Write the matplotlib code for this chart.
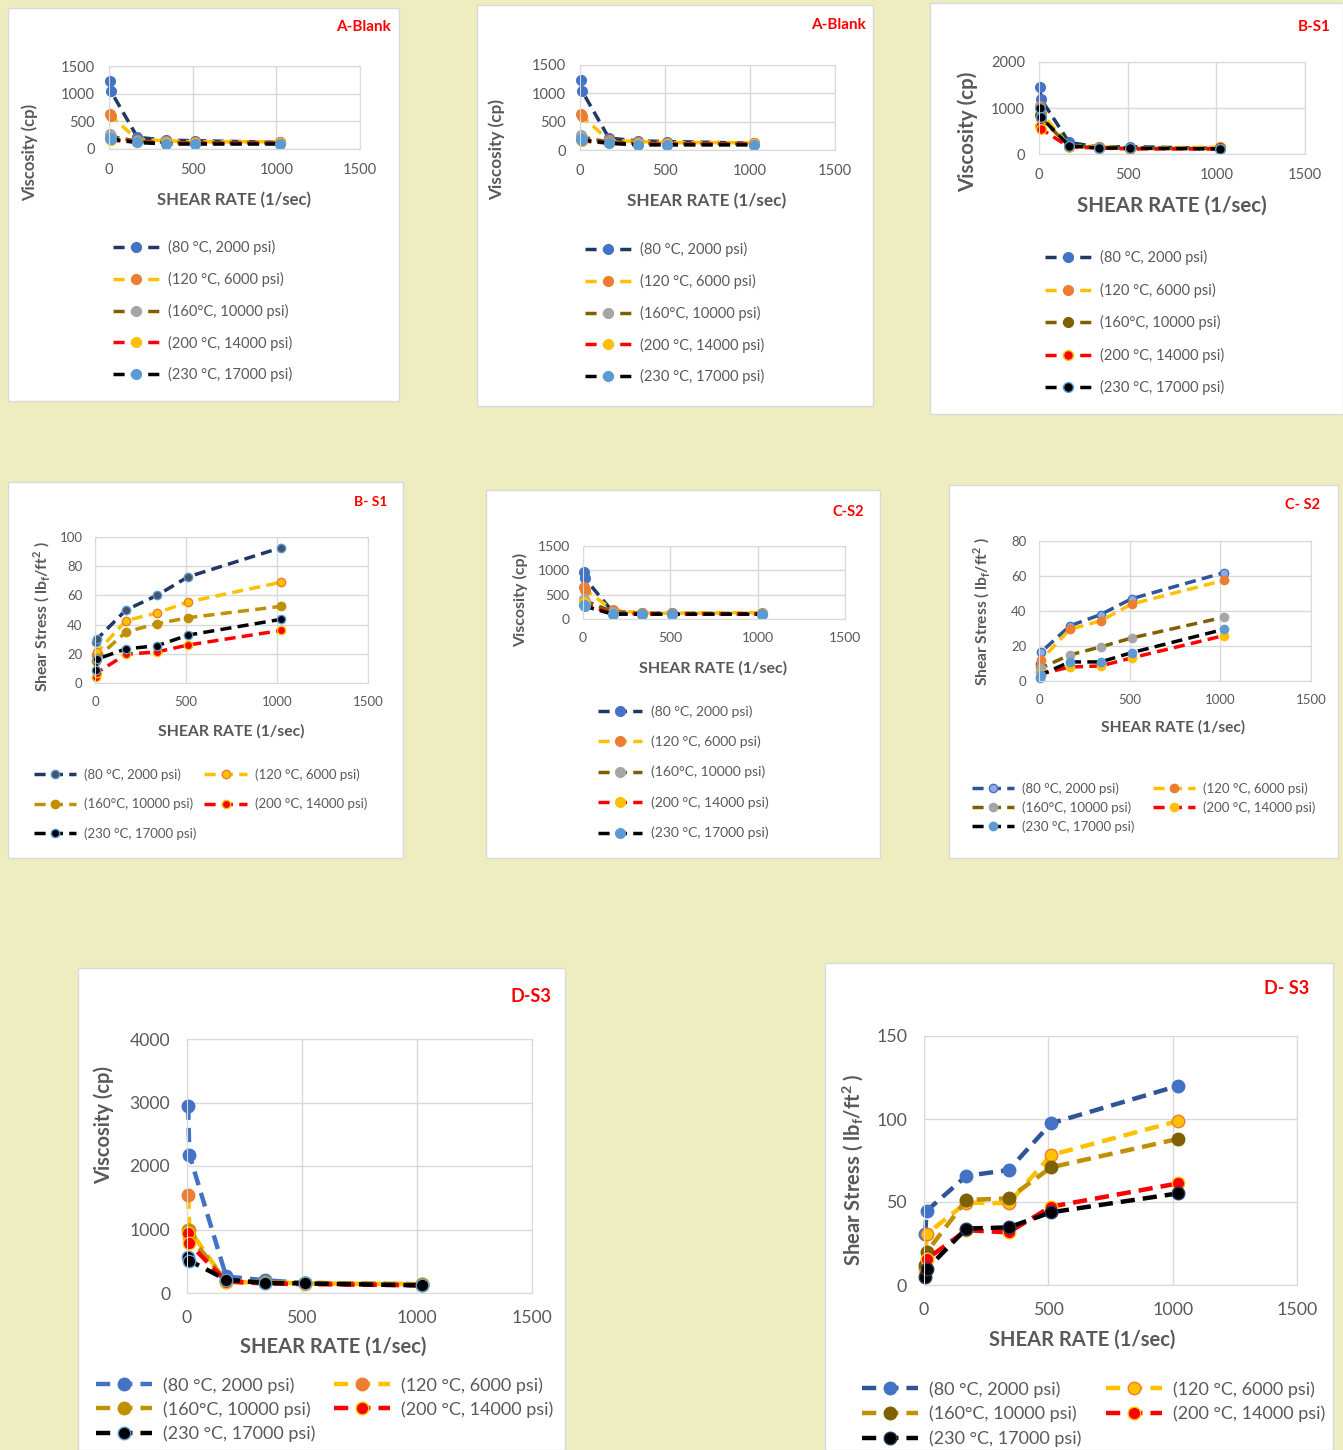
import matplotlib
matplotlib.use("Agg")
import matplotlib.pyplot as plt
from matplotlib.patches import Rectangle

plt.rcParams['font.family'] = ['Lato', 'DejaVu Sans']

W, H = 1343, 1450

# shear rates of the six Fann readings (1/sec)
shear_rate = [5.11, 10.22, 170.3, 340.6, 511, 1022]

labels = ['(80 °C, 2000 psi)', '(120 °C, 6000 psi)', '(160°C, 10000 psi)',
          '(200 °C, 14000 psi)', '(230 °C, 17000 psi)']

# viscosity (cp), one list per condition
a_blank_visc = [
    [1230, 1050, 210, 160, 150, 120],
    [640, 600, 170, 150, 130, 130],
    [270, 230, 140, 120, 110, 110],
    [180, 160, 120, 100, 100, 100],
    [200, 180, 120, 90, 90, 90],
]
b_s1_visc = [
    [1460, 1200, 250, 150, 160, 120],
    [1050, 900, 180, 160, 130, 150],
    [850, 780, 170, 140, 120, 120],
    [600, 550, 150, 130, 110, 110],
    [1000, 800, 180, 130, 130, 110],
]
c_s2_visc = [
    [970, 835, 150, 120, 120, 110],
    [650, 600, 190, 120, 120, 130],
    [415, 380, 150, 110, 110, 110],
    [350, 300, 110, 100, 100, 100],
    [290, 260, 100, 100, 100, 100],
]
d_s3_visc = [
    [2950, 2180, 260, 200, 160, 130],
    [1550, 1000, 170, 170, 150, 140],
    [1000, 900, 190, 170, 160, 140],
    [945, 780, 180, 150, 140, 120],
    [560, 510, 210, 157, 150, 120],
]

# shear stress (lbf/ft2)
b_s1_stress = [
    [28.2, 30, 50, 60, 72.7, 92.7],
    [19, 21, 42.7, 48, 55.5, 69],
    [15, 17, 35, 40.6, 44.7, 52.5],
    [4, 7, 19.7, 21.3, 26, 36],
    [8.7, 16.3, 23.4, 25.5, 32.8, 43.6],
]
c_s2_stress = [
    [10, 16.4, 31.5, 38, 47, 62],
    [8, 11.8, 29.6, 34.4, 44, 57.6],
    [5, 7.4, 14.9, 19.5, 24.6, 36.5],
    [2.5, 4, 8, 8.6, 13.2, 26],
    [2, 3.6, 10.9, 10.9, 16.2, 29.6],
]
d_s3_stress = [
    [30.7, 44.6, 65.7, 69.3, 97.4, 120],
    [10, 30.7, 49.6, 49.2, 78.3, 98.8],
    [12, 19.7, 51.2, 52.2, 70.9, 88],
    [7, 15.5, 33, 31.7, 47.2, 61.2],
    [5, 9.4, 34, 34.7, 43.8, 55.2],
]

# (line colour, marker face, marker edge)
sty_a = [('#203864', '#4472C4', '#4472C4'), ('#FFC000', '#ED7D31', '#ED7D31'),
         ('#7F6000', '#A5A5A5', '#A5A5A5'), ('#FF0000', '#FFC000', '#FFC000'),
         ('#000000', '#5B9BD5', '#5B9BD5')]
sty_b1 = [('#203864', '#4472C4', '#4472C4'), ('#FFC000', '#ED7D31', '#ED7D31'),
          ('#7F6000', '#7F6000', '#7F6000'), ('#FF0000', '#FF0000', '#FFC000'),
          ('#000000', '#000000', '#5B9BD5')]
sty_b2 = [('#203864', '#44546A', '#5B9BD5'), ('#FFC000', '#FFC000', '#ED7D31'),
          ('#BF9000', '#BF9000', '#BF9000'), ('#FF0000', '#FF0000', '#FFC000'),
          ('#000000', '#000000', '#5B9BD5')]
sty_c2 = [('#2F5597', '#8FAADC', '#4472C4'), ('#FFC000', '#ED7D31', '#ED7D31'),
          ('#7F6000', '#A5A5A5', '#A5A5A5'), ('#FF0000', '#FFC000', '#FFC000'),
          ('#000000', '#5B9BD5', '#5B9BD5')]
sty_d1 = [('#4472C4', '#4472C4', '#4472C4'), ('#FFC000', '#ED7D31', '#ED7D31'),
          ('#BF9000', '#BF9000', '#BF9000'), ('#FF0000', '#FF0000', '#FFC000'),
          ('#000000', '#000000', '#5B9BD5')]
sty_d2 = [('#2F5597', '#4472C4', '#4472C4'), ('#FFC000', '#FFC000', '#ED7D31'),
          ('#BF9000', '#7F6000', '#7F6000'), ('#FF0000', '#FF0000', '#FFC000'),
          ('#000000', '#000000', '#203864')]

GRAY = '#595959'
VISC = 'Viscosity (cp)'
STRESS = 'Shear Stress ( lb$_\\mathregular{f}$/ft$^\\mathregular{2}$ )'
XLAB = 'SHEAR RATE (1/sec)'

fig = plt.figure(figsize=(W / 100, H / 100), dpi=100)
fig.patch.set_facecolor('#EEEDC0')


def panel(card, axbox, data, sty, ymax, ystep, ylab, title, title_xy, tfs,
          ylab_xy, xlab_xy, leg_xy, ncol, fs, lfs, xfs, lw, ms,
          hl=3.2, ls=1.0, cs=0.6):
    x0, y0, x1, y1 = card
    fig.add_artist(Rectangle((x0 / W, 1 - y1 / H), (x1 - x0) / W, (y1 - y0) / H,
                             transform=fig.transFigure, facecolor='white',
                             edgecolor='#D9D9D9', lw=1, zorder=-1))
    a0, b0, a1, b1 = axbox
    ax = fig.add_axes([a0 / W, 1 - b1 / H, (a1 - a0) / W, (b1 - b0) / H])
    for ys, (lc, mf, me), lab in zip(data, sty, labels):
        ax.plot(shear_rate, ys, color=lc, lw=lw, ls=(0, (3.2, 1.8)),
                marker='o', ms=ms, mfc=mf, mec=me, mew=1, label=lab,
                clip_on=False)
    ax.set_xlim(0, 1500)
    ax.set_ylim(0, ymax)
    ax.set_xticks([0, 500, 1000, 1500])
    ax.set_yticks(range(0, ymax + 1, ystep))
    ax.grid(True, color='#D9D9D9', lw=1)
    ax.set_axisbelow(True)
    for s in ax.spines.values():
        s.set_color('#D9D9D9')
    ax.tick_params(length=0, labelsize=fs, labelcolor=GRAY, pad=fs * 0.95)
    ax.set_ylabel(ylab, fontsize=xfs, fontweight='bold', color=GRAY)
    ax.yaxis.label.set_va('center')
    ax.yaxis.set_label_coords((ylab_xy[0] - a0) / (a1 - a0),
                              (b1 - ylab_xy[1]) / (b1 - b0))
    ax.set_xlabel(XLAB, fontsize=xfs, fontweight='bold', color=GRAY)
    ax.xaxis.label.set_va('center')
    ax.xaxis.set_label_coords((xlab_xy[0] - a0) / (a1 - a0),
                              (b1 - xlab_xy[1]) / (b1 - b0))
    fig.text(title_xy[0] / W, 1 - title_xy[1] / H, title, color='#FF0000',
             fontweight='bold', fontsize=tfs, ha='right', va='center')
    handles, labs = ax.get_legend_handles_labels()
    if ncol == 2:
        # Excel fills legend rows first
        order = [0, 2, 4, 1, 3]
        handles = [handles[i] for i in order]
        labs = [labs[i] for i in order]
    ax.legend(handles, labs, loc='upper left',
              bbox_to_anchor=(leg_xy[0] / W, 1 - leg_xy[1] / H),
              bbox_transform=fig.transFigure, ncol=ncol, frameon=False,
              fontsize=lfs, labelcolor=GRAY, handlelength=hl,
              handletextpad=0.6, labelspacing=ls, columnspacing=cs,
              borderpad=0, borderaxespad=0, numpoints=1)
    return ax


panel((8, 8, 399, 401), (109, 66, 360, 149), a_blank_visc, sty_a, 1500, 500,
      VISC, 'A-Blank', (391, 27), 11, (30, 152), (234, 200), (113, 240), 1,
      10.5, 10.5, 12, 2.5, 7, ls=1.15)
panel((477, 5, 873, 406), (580, 65, 835, 150), a_blank_visc, sty_a, 1500, 500,
      VISC, 'A-Blank', (866, 25), 11, (497, 150), (707, 201), (585, 242), 1,
      10.5, 10.5, 12.3, 2.5, 7, ls=1.15)
panel((930, 3, 1343, 414), (1039, 62, 1305, 154), b_s1_visc, sty_b1, 2000, 1000,
      VISC, 'B-S1', (1331, 27), 11, (968, 132), (1172, 206), (1045, 250), 1,
      10.5, 10.5, 14.8, 2.5, 7, ls=1.2)
panel((8, 482, 403, 858), (95, 537, 368, 683), b_s1_stress, sty_b2, 100, 20,
      STRESS, 'B- S1', (387, 502), 10, (42, 617), (231, 731), (34, 768), 2,
      9.5, 9.5, 11.3, 2.5, 6, hl=3.2, ls=1.3, cs=0.6)
panel((486, 490, 880, 858), (583, 546, 845, 619), c_s2_visc, sty_a, 1500, 500,
      VISC, 'C-S2', (864, 512), 10.5, (521, 600), (713, 668), (598, 705), 1,
      10, 10, 11.5, 2.5, 7, ls=1.29)
panel((949, 485, 1338, 858), (1039, 541, 1311, 681), c_s2_stress, sty_c2, 80, 20,
      STRESS, 'C- S2', (1320, 505), 10.5, (981, 612), (1173, 727), (972, 782), 2,
      9.5, 9.5, 11.2, 2.5, 6, hl=3.2, ls=0.49, cs=1.4)
panel((78, 968, 565, 1450), (187, 1039, 532, 1293), d_s3_visc, sty_d1, 4000, 1000,
      VISC, 'D-S3', (551, 997), 13, (104, 1125), (333, 1347), (96, 1377), 2,
      12.7, 13, 14.5, 3.2, 9, hl=3.1, ls=0.42, cs=1.05)
panel((825, 963, 1333, 1450), (924, 1036, 1297, 1285), d_s3_stress, sty_d2, 150, 50,
      STRESS, 'D- S3', (1309, 989), 13, (853, 1170), (1082, 1340), (862, 1381), 2,
      12.8, 13, 14.5, 3.2, 9, hl=3.1, ls=0.45, cs=1.4)

fig.savefig('out.png', dpi=100, facecolor=fig.get_facecolor())
